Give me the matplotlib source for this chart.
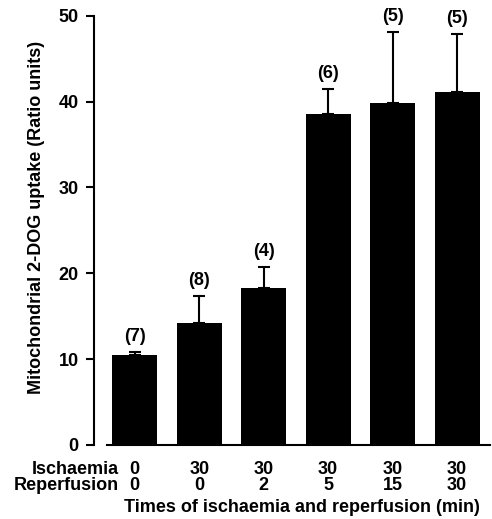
import numpy as np
import matplotlib
matplotlib.use('Agg')
import matplotlib.pyplot as plt

plt.rcParams['font.family'] = ['Liberation Sans', 'DejaVu Sans']
plt.rcParams['font.weight'] = 'bold'

# Dữ liệu
ischaemia = ['0', '30', '30', '30', '30', '30']
reperfusion = ['0', '0', '2', '5', '15', '30']
uptake = [10.5, 14.2, 18.3, 38.5, 39.8, 41.1]
sem = [0.3, 3.2, 2.4, 3.0, 8.3, 6.8]
n_animals = ['(7)', '(8)', '(4)', '(6)', '(5)', '(5)']

fig = plt.figure(figsize=(4.92, 5.19), dpi=100)
ax = fig.add_axes([0.2175, 0.1426, 0.7785, 0.8272])

x = np.arange(len(uptake))
ax.bar(x, uptake, width=0.7, color='black')
ax.errorbar(x, uptake, yerr=[np.zeros(len(sem)), sem], fmt='none',
            ecolor='black', elinewidth=1.5, capsize=4.5, capthick=1.5)

for xi, v, e, lab in zip(x, uptake, sem, n_animals):
    ax.text(xi, v + e + 0.8, lab, ha='center', va='bottom',
            fontsize=13, fontweight='bold')

ax.set_xlim(-0.43, 5.51)
ax.set_ylim(0, 50)
ax.set_yticks([0, 10, 20, 30, 40, 50])
ax.set_xticks([])
ax.spines['top'].set_visible(False)
ax.spines['right'].set_visible(False)
ax.spines['left'].set_position(('outward', 9.5))
ax.spines['left'].set_linewidth(1.5)
ax.spines['bottom'].set_linewidth(1.5)
ax.tick_params(axis='y', direction='out', length=5.8, width=1.5, pad=5,
               labelsize=13)
for t in ax.get_yticklabels():
    t.set_fontweight('bold')

# Nhãn trục y
fig.text(37 / 492, 1 - 217 / 519, 'Mitochondrial 2-DOG uptake (Ratio units)',
         rotation=90, ha='center', va='center', fontsize=13, fontweight='bold')

# Hàng nhãn dưới trục x
trans = ax.get_xaxis_transform()
ax.text(-0.24, -0.076, 'Ischaemia\nReperfusion', transform=trans, ha='right',
        va='center', fontsize=13, fontweight='bold', linespacing=0.95)
for xi, a, b in zip(x, ischaemia, reperfusion):
    ax.text(xi, -0.076, a + '\n' + b, transform=trans, ha='center',
            va='center', fontsize=13, fontweight='bold', linespacing=0.95)
ax.text(2.59, -0.146, 'Times of ischaemia and reperfusion (min)', transform=trans,
        ha='center', va='center', fontsize=13, fontweight='bold')

fig.savefig('out.png', dpi=100)
